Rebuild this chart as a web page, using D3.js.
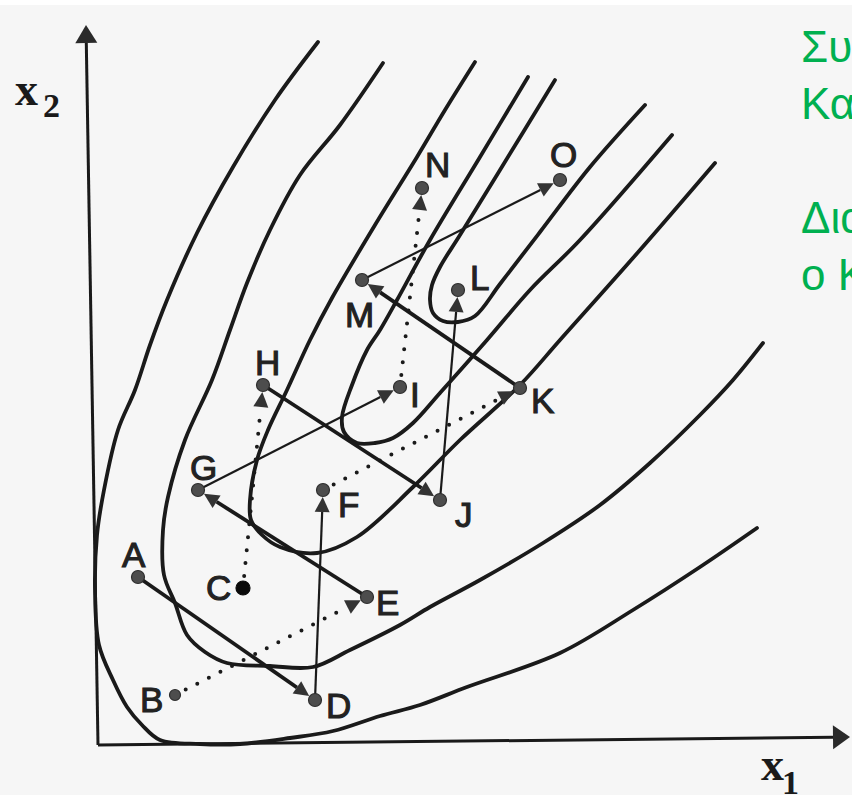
<!DOCTYPE html>
<html>
<head>
<meta charset="utf-8">
<script src="https://cdn.jsdelivr.net/npm/d3@7"></script>
<style>
  html, body { margin: 0; padding: 0; background: #ffffff; overflow: hidden; }
  svg { display: block; }
</style>
</head>
<body>
<svg id="chart" width="852" height="795"></svg>
<script>
// Search points, in x1 / x2 units measured from the origin of the axes
const pointNames = ["A", "B", "C", "D", "E", "F", "G", "H", "I", "J", "K", "L", "M", "N", "O"];
const pointX1 = [40, 77, 145, 217, 269, 225, 100, 165, 302, 342, 422, 360, 264, 324, 462];
const pointX2 = [168, 50, 157, 45, 148, 255, 255, 360, 358, 245, 357, 455, 465, 557, 565];

// Moves of the search: solid = line searches, dotted = pattern moves
const solidMoves = [["A", "D"], ["D", "F"], ["E", "G"], ["G", "I"], ["H", "J"], ["J", "L"], ["K", "M"], ["M", "O"]];
const heavyMoves = ["A-D", "E-G", "H-J", "K-M"];
const dottedMoves = [["B", "E"], ["C", "H"], ["F", "K"], ["I", "N"]];

// Level curves of the objective, outermost first, as [x1, x2] pairs
const contour1 = [[220, 703], [177, 645], [135, 578], [99, 512], [69, 445], [52, 400], [37, 355], [20, 315],
  [6, 255], [-1, 210], [-3, 155], [1, 100], [15, 65], [29, 38], [44, 20], [62, 5], [102, 1], [142, 1],
  [192, 7], [235, 14], [282, 29], [322, 40], [369, 58], [462, 92], [535, 135], [602, 178], [659, 217]];
const contour2 = [[285, 682], [242, 620], [202, 570], [172, 515], [149, 462], [132, 415], [114, 365], [87, 305],
  [70, 248], [65, 215], [66, 170], [77, 142], [89, 110], [107, 93], [129, 82], [172, 79], [215, 78],
  [252, 95], [302, 120], [332, 138], [382, 165], [445, 202], [502, 240], [552, 282], [602, 330], [635, 365], [665, 402]];
const contour3 = [[377, 683], [347, 635], [319, 588], [277, 520], [234, 447], [212, 405], [189, 355], [170, 315],
  [159, 285], [152, 245], [153, 225], [164, 210], [182, 198], [219, 192], [259, 208], [315, 258], [362, 305],
  [422, 360], [462, 405], [542, 495], [617, 582]];
const contour4 = [[430, 668], [382, 588], [332, 505], [299, 445], [282, 415], [269, 395], [254, 360], [244, 328],
  [246, 313], [259, 302], [277, 302], [295, 307], [315, 322], [342, 352], [389, 405], [432, 455], [482, 505], [574, 610]];
const contour5 = [[457, 665], [402, 575], [362, 510], [342, 478], [334, 460], [332, 445], [335, 432], [345, 424],
  [360, 423], [377, 429], [402, 461], [442, 513], [492, 578], [547, 640]];
const contours = [contour1, contour2, contour3, contour4, contour5];

// Axis end points (arrow tips)
const x1AxisEnd = [752, 8];
const x2AxisEnd = [-12, 720];

// Side note (runs off the right edge of the sheet)
const noteLines = ["Συ", "Κα", "", "Δια", "ο Κ"];

const svg = d3.select("#chart");
const W = 852, H = 795;

const x = d3.scaleLinear().domain([0, 754]).range([98, 852]);
const y = d3.scaleLinear().domain([0, 745]).range([745, 0]);

const ink = "#1a1a1a";

// paper
svg.append("rect").attr("x", 0).attr("y", 0).attr("width", W).attr("height", H).attr("fill", "#ffffff");
svg.append("rect").attr("x", 0).attr("y", 5).attr("width", W).attr("height", H - 5).attr("fill", "#f6f6f6");

function arrowHead(p, q, gap, len, hw) {
  const dx = q[0] - p[0], dy = q[1] - p[1], d = Math.hypot(dx, dy);
  const ux = dx / d, uy = dy / d;
  const tip = [q[0] - ux * gap, q[1] - uy * gap];
  const base = [tip[0] - ux * len, tip[1] - uy * len];
  return {
    tip, base,
    poly: [tip, [base[0] - uy * hw, base[1] + ux * hw], [base[0] + uy * hw, base[1] - ux * hw]]
  };
}
const polyStr = pts => pts.map(p => p.join(",")).join(" ");

// axes
const origin = [x(0), y(0)];
const axes = [
  { end: [x(x1AxisEnd[0]), y(x1AxisEnd[1])], len: 17, hw: 12 },
  { end: [x(x2AxisEnd[0]), y(x2AxisEnd[1])], len: 18, hw: 11 }
];
const gAxes = svg.append("g");
axes.forEach(a => {
  const h = arrowHead(origin, a.end, 0, a.len, a.hw);
  gAxes.append("line")
    .attr("x1", origin[0]).attr("y1", origin[1])
    .attr("x2", h.base[0]).attr("y2", h.base[1])
    .attr("stroke", ink).attr("stroke-width", 3);
  gAxes.append("polygon").attr("points", polyStr(h.poly)).attr("fill", "#2a2a2a");
});

// contours
const line = d3.line().x(d => x(d[0])).y(d => y(d[1])).curve(d3.curveCatmullRom.alpha(0.5));
svg.append("g").selectAll("path").data(contours).join("path")
  .attr("d", line)
  .attr("fill", "none")
  .attr("stroke", ink)
  .attr("stroke-width", 3.8)
  .attr("stroke-linecap", "round")
  .attr("stroke-linejoin", "round");

// point lookup
const pos = {};
pointNames.forEach((n, i) => { pos[n] = [x(pointX1[i]), y(pointX2[i])]; });

// moves
const gMoves = svg.append("g");
solidMoves.forEach(([a, b]) => {
  const p = pos[a], q = pos[b];
  const heavy = heavyMoves.includes(a + "-" + b);
  const h = arrowHead(p, q, 7, 15, 7.5);
  gMoves.append("line")
    .attr("x1", p[0]).attr("y1", p[1]).attr("x2", h.base[0]).attr("y2", h.base[1])
    .attr("stroke", ink).attr("stroke-width", heavy ? 3.8 : 2.2);
  gMoves.append("polygon").attr("points", polyStr(h.poly)).attr("fill", "#333");
});
dottedMoves.forEach(([a, b]) => {
  const p = pos[a], q = pos[b];
  const h = arrowHead(p, q, 7, 15, 7.5);
  const d = Math.hypot(h.base[0] - p[0], h.base[1] - p[1]);
  const ux = (h.base[0] - p[0]) / d, uy = (h.base[1] - p[1]) / d;
  gMoves.append("line")
    .attr("x1", p[0] + ux * 12).attr("y1", p[1] + uy * 12)
    .attr("x2", h.base[0] - ux * 3).attr("y2", h.base[1] - uy * 3)
    .attr("stroke", ink).attr("stroke-width", 4)
    .attr("stroke-linecap", "round")
    .attr("stroke-dasharray", "0 13");
  gMoves.append("polygon").attr("points", polyStr(h.poly)).attr("fill", "#333");
});

// points
svg.append("g").selectAll("circle").data(pointNames).join("circle")
  .attr("cx", n => pos[n][0]).attr("cy", n => pos[n][1])
  .attr("r", n => n === "C" ? 7 : (n === "B" ? 5.5 : 6.5))
  .attr("fill", n => n === "C" ? "#0a0a0a" : "#4d4d4d")
  .attr("stroke", n => n === "C" ? "#0a0a0a" : "#2e2e2e")
  .attr("stroke-width", 1.2);

// point labels (offset from the dot, px)
const labelOffset = {
  A: [-16, -10], B: [-35, 17], C: [-37, 12], D: [11, 18], E: [9, 18], F: [15, 27], G: [-8, -10],
  H: [-8, -10], I: [10, 20], J: [15, 27], K: [11, 25], L: [12, 0], M: [-17, 47], N: [3, -11], O: [-10, -13]
};
svg.append("g").selectAll("text").data(pointNames).join("text")
  .attr("x", n => pos[n][0] + labelOffset[n][0])
  .attr("y", n => pos[n][1] + labelOffset[n][1])
  .attr("font-family", "'Liberation Sans', Arial, sans-serif")
  .attr("font-size", 35)
  .attr("fill", "#222")
  .attr("stroke", "#222")
  .attr("stroke-width", 1.1)
  .text(n => n);

// axis titles
function axisTitle(tx, ty, sub, sx, sy) {
  const t = svg.append("text")
    .attr("font-family", "'Liberation Serif', 'Times New Roman', serif")
    .attr("font-weight", "bold")
    .attr("fill", "#1a1a1a");
  t.append("tspan").attr("x", tx).attr("y", ty).attr("font-size", 46).text("x");
  t.append("tspan").attr("x", sx).attr("y", sy).attr("font-size", 34).text(sub);
}
axisTitle(15, 105, "2", 43, 117);
axisTitle(761, 780, "1", 782, 794);

// side note
svg.append("g").selectAll("text").data(noteLines).join("text")
  .attr("x", 801)
  .attr("y", (d, i) => 62 + i * 57)
  .attr("font-family", "'Liberation Sans', Arial, sans-serif")
  .attr("font-size", 44)
  .attr("fill", "#00b050")
  .text(d => d);
</script>
</body>
</html>
